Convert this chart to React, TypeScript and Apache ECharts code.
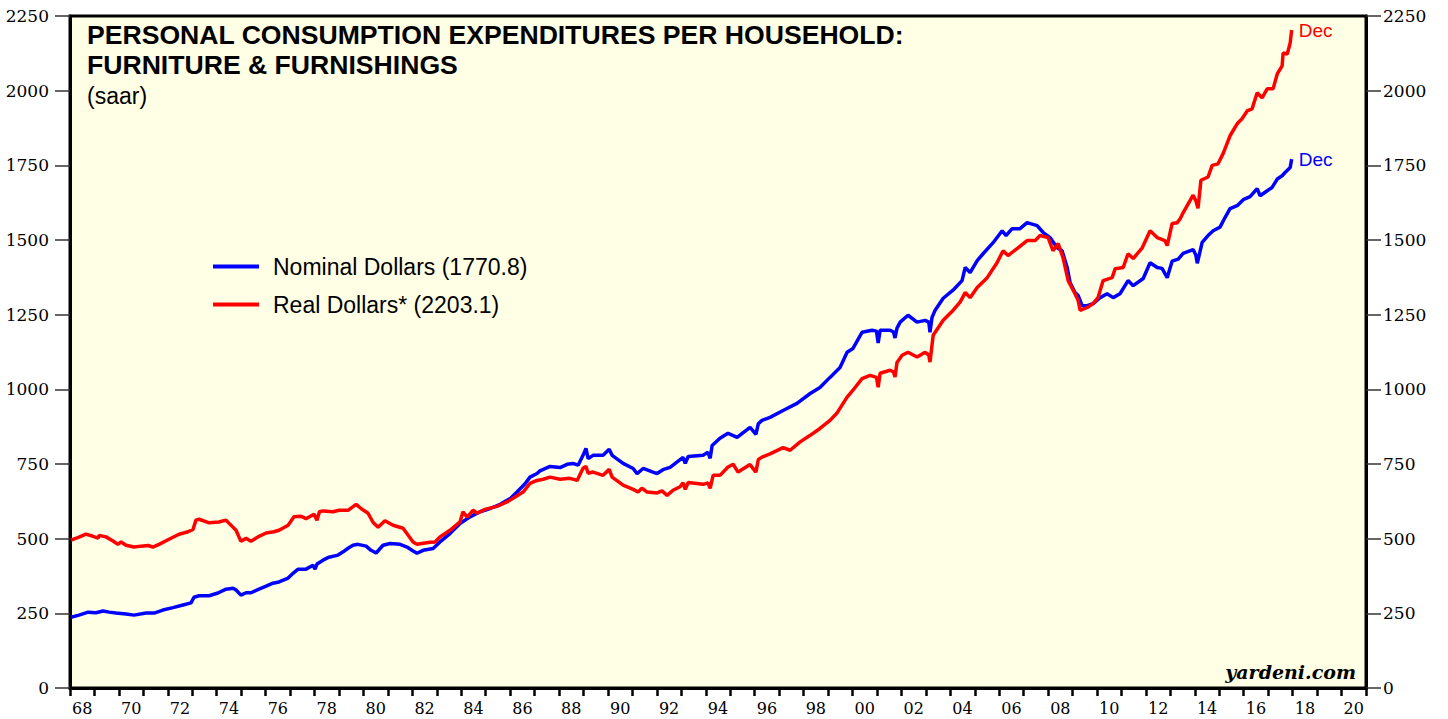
import React, { useEffect, useRef } from "react";
import * as echarts from "echarts";

const xTickLabels = [
  "68","69","70","71","72","73","74","75","76","77","78","79","80","81","82","83","84","85","86","87",
  "88","89","90","91","92","93","94","95","96","97","98","99","00","01","02","03","04","05","06","07",
  "08","09","10","11","12","13","14","15","16","17","18","19","20",
];

const nominalName = "Nominal Dollars (1770.8)";
const realName = "Real Dollars* (2203.1)";

const nominalYears = [
  1968.04,1968.37,1968.74,1969.06,1969.35,1969.60,1969.88,1970.29,1970.62,1971.11,1971.44,1971.80,
  1972.21,1972.62,1972.95,1973.07,1973.28,1973.69,1974.05,1974.38,1974.67,1974.79,1974.99,1975.20,
  1975.40,1975.73,1976.02,1976.30,1976.55,1976.92,1977.12,1977.33,1977.65,1977.94,1978.02,1978.10,
  1978.35,1978.59,1978.96,1979.17,1979.37,1979.57,1979.78,1980.11,1980.31,1980.52,1980.80,1981.09,
  1981.50,1981.78,1982.03,1982.19,1982.44,1982.85,1983.13,1983.54,1983.95,1984.36,1984.77,1985.18,
  1985.59,1986.00,1986.28,1986.61,1986.81,1987.10,1987.22,1987.63,1988.04,1988.33,1988.57,1988.78,
  1988.98,1989.10,1989.19,1989.39,1989.80,1990.05,1990.17,1990.62,1991.03,1991.19,1991.44,1991.84,
  1992.01,1992.25,1992.54,1993.07,1993.16,1993.28,1993.89,1994.09,1994.18,1994.26,1994.58,1994.91,
  1995.28,1995.81,1996.05,1996.15,1996.30,1996.63,1997.16,1997.73,1998.27,1998.67,1999.08,1999.49,
  1999.78,2000.02,2000.39,2000.80,2000.98,2001.05,2001.13,2001.54,2001.68,2001.74,2001.82,2001.95,
  2002.27,2002.64,2002.97,2003.12,2003.17,2003.25,2003.38,2003.71,2004.11,2004.48,2004.61,2004.81,
  2005.10,2005.34,2005.75,2006.12,2006.28,2006.53,2006.85,2007.14,2007.55,2007.80,2008.08,2008.37,
  2008.57,2008.78,2008.90,2009.10,2009.23,2009.39,2009.60,2009.84,2010.13,2010.41,2010.66,2010.94,
  2011.27,2011.48,2011.89,2012.17,2012.46,2012.66,2012.87,2013.07,2013.32,2013.52,2013.93,2014.04,
  2014.10,2014.30,2014.54,2014.75,2015.03,2015.24,2015.44,2015.73,2015.98,2016.26,2016.55,2016.67,
  2016.96,2017.16,2017.37,2017.57,2017.69,2017.90,2017.96,
];
const nominalValues = [
  237,244,254,252,258,254,251,248,244,251,251,261,
  269,278,285,304,309,309,318,331,334,328,311,319,
  319,331,341,351,355,368,384,398,398,411,398,415,
  428,438,445,456,468,478,481,475,461,452,478,484,
  481,472,459,451,461,467,489,517,551,573,590,601,
  615,634,656,684,706,718,727,742,738,749,752,746,
  779,802,768,779,779,799,779,752,735,718,735,723,
  718,731,739,772,752,775,779,789,769,812,836,853,
  839,873,849,885,896,906,929,953,986,1006,1040,1073,
  1124,1137,1191,1198,1195,1155,1198,1198,1192,1172,1205,1225,
  1248,1225,1231,1225,1191,1240,1265,1305,1332,1364,1408,1391,
  1431,1454,1491,1531,1515,1538,1538,1558,1548,1525,1508,1474,
  1464,1408,1357,1324,1314,1280,1280,1287,1307,1320,1307,1320,
  1364,1347,1371,1424,1408,1405,1374,1429,1436,1455,1468,1450,
  1422,1492,1515,1531,1543,1576,1605,1615,1635,1645,1672,1648,
  1665,1676,1704,1715,1726,1743,1770.8,
];

const realYears = [
  1968.04,1968.37,1968.65,1968.94,1969.15,1969.19,1969.47,1969.76,1969.96,1970.09,1970.29,1970.62,
  1970.90,1971.19,1971.39,1971.64,1972.05,1972.46,1972.83,1973.03,1973.15,1973.28,1973.69,1974.09,
  1974.38,1974.50,1974.79,1974.99,1975.20,1975.40,1975.69,1976.02,1976.34,1976.55,1976.92,1977.16,
  1977.45,1977.65,1977.98,1978.10,1978.20,1978.35,1978.76,1979.00,1979.37,1979.70,1979.90,1980.19,
  1980.39,1980.60,1980.88,1981.21,1981.62,1982.03,1982.19,1982.72,1982.93,1983.13,1983.54,1983.95,
  1984.07,1984.24,1984.48,1984.65,1984.97,1985.46,1985.87,1986.12,1986.53,1986.81,1987.10,1987.35,
  1987.63,1988.04,1988.45,1988.74,1988.98,1989.10,1989.19,1989.39,1989.80,1990.05,1990.17,1990.62,
  1991.03,1991.23,1991.39,1991.60,1992.01,1992.21,1992.42,1992.66,1992.95,1993.07,1993.16,1993.28,
  1993.89,1994.09,1994.18,1994.30,1994.58,1994.91,1995.12,1995.32,1995.81,1996.05,1996.15,1996.30,
  1996.63,1997.16,1997.45,1997.86,1998.27,1998.67,1999.08,1999.37,1999.78,2000.02,2000.39,2000.72,
  2000.98,2001.05,2001.13,2001.54,2001.68,2001.74,2001.82,2002.03,2002.27,2002.64,2002.97,2003.12,
  2003.17,2003.30,2003.71,2004.11,2004.40,2004.61,2004.81,2005.10,2005.51,2005.91,2006.16,2006.36,
  2006.77,2007.14,2007.47,2007.67,2008.00,2008.20,2008.41,2008.61,2008.82,2009.10,2009.23,2009.31,
  2009.60,2009.84,2010.04,2010.25,2010.62,2010.74,2011.07,2011.27,2011.48,2011.85,2012.17,2012.46,
  2012.78,2012.87,2013.07,2013.28,2013.40,2013.52,2013.93,2014.05,2014.13,2014.25,2014.54,2014.71,
  2014.95,2015.16,2015.44,2015.73,2015.93,2016.14,2016.34,2016.55,2016.75,2016.96,2017.20,2017.37,
  2017.57,2017.61,2017.78,2017.90,2017.96,
];
const realValues = [
  495,505,515,508,502,511,506,492,481,489,478,472,
  475,477,472,481,498,515,523,531,562,565,553,556,
  562,552,528,491,501,491,506,519,523,528,545,573,
  575,567,582,562,590,593,590,595,595,615,601,585,
  555,538,560,545,535,489,481,488,489,506,528,556,
  590,572,595,585,598,608,623,635,656,685,695,699,
  706,699,702,695,736,742,719,723,712,732,706,679,
  665,656,669,656,653,660,645,662,674,687,665,688,
  682,687,668,712,712,740,749,723,748,723,765,773,
  784,805,796,824,846,869,896,921,974,997,1036,1047,
  1040,1007,1054,1064,1058,1041,1090,1114,1124,1108,1124,1115,
  1091,1181,1231,1264,1292,1324,1307,1341,1374,1424,1464,1448,
  1474,1498,1498,1515,1508,1464,1488,1441,1364,1320,1297,1264,
  1274,1287,1307,1364,1374,1404,1408,1454,1438,1474,1531,1508,
  1498,1481,1555,1558,1571,1591,1650,1630,1606,1700,1711,1750,
  1755,1790,1849,1889,1906,1932,1939,1993,1976,2006,2006,2056,
  2083,2126,2123,2160,2203.1,
];

const yMin = 0;
const yMax = 2250;
const yStep = 250;

const pair = (xs: number[], ys: number[]) => xs.map((x, i) => [x, ys[i]]);

export default function App() {
  const ref = useRef<HTMLDivElement>(null);

  useEffect(() => {
    if (!ref.current) return;
    const chart = echarts.init(ref.current, null, { renderer: "svg" });

    const yAxisBase = {
      type: "value",
      min: yMin,
      max: yMax,
      interval: yStep,
      splitLine: { show: false },
      axisLine: { show: true, lineStyle: { color: "#000", width: 3 } },
      axisTick: { show: true, inside: false, length: 15, lineStyle: { color: "#333", width: 1.5 } },
    };
    const yLabel = (v: number) => String(v);

    const option = {
      animation: false,
      backgroundColor: "#ffffff",
      grid: {
        left: 70,
        right: 82,
        top: 16,
        bottom: 31,
        show: true,
        backgroundColor: "#ffffe5",
        borderColor: "#000",
        borderWidth: 3,
      },
      legend: {
        orient: "vertical",
        left: 208,
        top: 250,
        itemWidth: 46,
        itemHeight: 4,
        itemGap: 15,
        icon: "rect",
        selectedMode: false,
        data: [nominalName, realName],
        textStyle: {
          fontFamily: "Liberation Sans",
          fontSize: 23,
          color: "#000",
          padding: [0, 0, 0, 9],
        },
      },
      xAxis: [
        {
          type: "category",
          data: xTickLabels,
          boundaryGap: true,
          position: "bottom",
          axisLine: { show: true, lineStyle: { color: "#000", width: 3 } },
          axisTick: { show: true, interval: 0, length: 8, lineStyle: { color: "#000", width: 2.5 } },
          axisLabel: {
            interval: 1,
            color: "#000",
            fontFamily: "DejaVu Serif",
            fontSize: 16,
            margin: 12,
          },
          splitLine: { show: false },
        },
        { type: "value", min: 1968, max: 2021, show: false },
      ],
      yAxis: [
        {
          ...yAxisBase,
          position: "left",
          axisLabel: { color: "#000", fontFamily: "DejaVu Serif", fontSize: 17, margin: 21, formatter: yLabel },
        },
        {
          ...yAxisBase,
          position: "right",
          axisLabel: { color: "#000", fontFamily: "DejaVu Serif", fontSize: 17, margin: 17, formatter: yLabel },
        },
      ],
      graphic: [
        {
          type: "text",
          left: 87,
          top: 21,
          style: {
            text: "PERSONAL CONSUMPTION EXPENDITURES PER HOUSEHOLD:",
            font: 'bold 26.6px "Liberation Sans"',
            fill: "#000",
          },
        },
        {
          type: "text",
          left: 87,
          top: 51,
          style: {
            text: "FURNITURE & FURNISHINGS",
            font: 'bold 26.6px "Liberation Sans"',
            fill: "#000",
          },
        },
        {
          type: "text",
          left: 87,
          top: 84,
          style: { text: "(saar)", font: '23px "Liberation Sans"', fill: "#000" },
        },
        {
          type: "text",
          right: 92,
          top: 662,
          style: { text: "yardeni.com", font: 'italic bold 19px "DejaVu Serif"', fill: "#000" },
        },
      ],
      series: [
        {
          type: "line",
          name: nominalName,
          xAxisIndex: 1,
          yAxisIndex: 0,
          data: pair(nominalYears, nominalValues),
          symbol: "none",
          showSymbol: false,
          lineStyle: { color: "#0000ff", width: 3.5 },
          itemStyle: { color: "#0000ff" },
          endLabel: {
            show: true,
            formatter: "Dec",
            color: "#0000ff",
            fontFamily: "Liberation Sans",
            fontSize: 19,
            distance: 7,
          },
        },
        {
          type: "line",
          name: realName,
          xAxisIndex: 1,
          yAxisIndex: 0,
          data: pair(realYears, realValues),
          symbol: "none",
          showSymbol: false,
          lineStyle: { color: "#ff0000", width: 3.5 },
          itemStyle: { color: "#ff0000" },
          endLabel: {
            show: true,
            formatter: "Dec",
            color: "#ff0000",
            fontFamily: "Liberation Sans",
            fontSize: 19,
            distance: 7,
          },
        },
      ],
    };

    chart.setOption(option as any);
    return () => chart.dispose();
  }, []);

  return (
    <div
      ref={ref}
      style={{ position: "absolute", left: 0, top: 0, width: 1448, height: 719 }}
    />
  );
}
